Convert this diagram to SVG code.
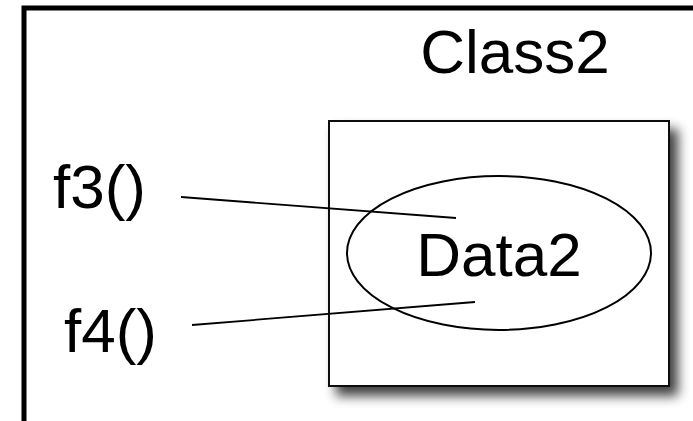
<svg xmlns="http://www.w3.org/2000/svg" width="693" height="421" viewBox="0 0 693 421">
  <defs>
    <filter id="shadow" x="-20%" y="-20%" width="150%" height="150%">
      <feGaussianBlur in="SourceAlpha" stdDeviation="6"/>
      <feOffset dx="8" dy="9" result="b"/>
      <feComponentTransfer><feFuncA type="linear" slope="0.75"/></feComponentTransfer>
      <feMerge><feMergeNode/><feMergeNode in="SourceGraphic"/></feMerge>
    </filter>
  </defs>
  <style>
    text { font-family: "Liberation Sans", Arial, Helvetica, sans-serif; font-size: 62px; fill: #000; }
    .edge { stroke: #000; stroke-width: 1.8; fill: none; }
  </style>
  <rect width="693" height="421" fill="#fff"/>
  <g id="class2">
    <rect x="24" y="8" width="800" height="600" fill="none" stroke="#000" stroke-width="5"/>
    <text x="515" y="73" text-anchor="middle">Class2</text>
  </g>
  <g id="f3">
    <text x="53" y="208">f3()</text>
  </g>
  <g id="f4">
    <text x="64" y="352">f4()</text>
  </g>
  <g id="box">
    <rect x="329" y="121" width="340" height="265" fill="#fff" stroke="#111" stroke-width="2" filter="url(#shadow)"/>
  </g>
  <g id="data2">
    <ellipse cx="499" cy="253" rx="152" ry="77" fill="none" stroke="#000" stroke-width="2"/>
    <text x="499" y="276" text-anchor="middle">Data2</text>
  </g>
  <g id="connectors">
    <line class="edge" x1="181" y1="197" x2="456" y2="218"/>
    <line class="edge" x1="192" y1="325" x2="475" y2="302"/>
  </g>
</svg>
